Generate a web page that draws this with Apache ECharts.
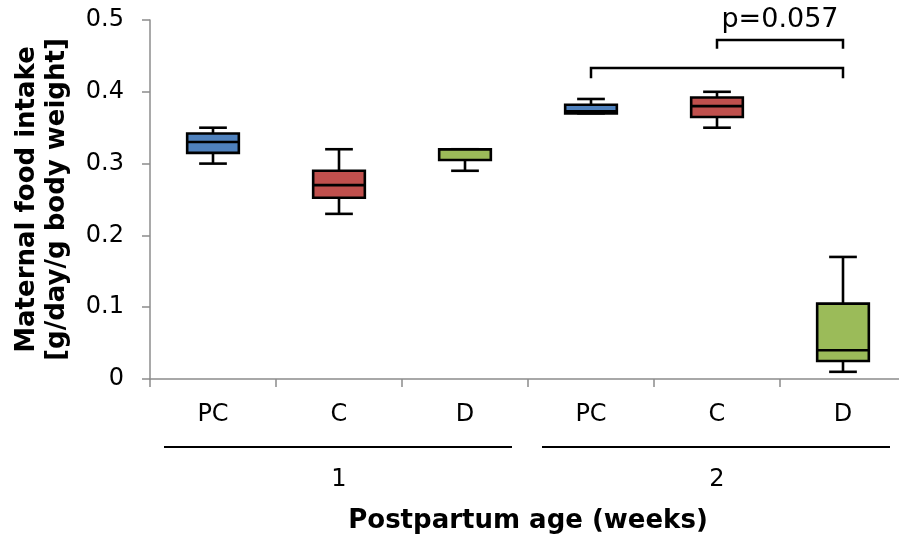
<!DOCTYPE html>
<html>
<head>
<meta charset="utf-8">
<script src="https://cdn.jsdelivr.net/npm/echarts@6/dist/echarts.min.js"></script>
<style>
html,body{margin:0;padding:0;background:#fff;}
#c{width:899px;height:537px;}
</style>
</head>
<body>
<div id="c"></div>
<script>
// ---- data ----
const categories = ['PC', 'C', 'D', 'PC', 'C', 'D'];
const weeks = ['1', '2'];
const mins    = [0.30, 0.23,  0.29,  0.37,  0.35,  0.01];
const q1s     = [0.315, 0.2525, 0.305, 0.37,  0.365, 0.025];
const medians = [0.33, 0.27,  0.32,  0.373, 0.38,  0.04];
const q3s     = [0.342, 0.29,  0.32,  0.382, 0.392, 0.105];
const maxs    = [0.35, 0.32,  0.32,  0.39,  0.40,  0.17];
const groupColors = ['#4F81BD', '#C0504D', '#9BBB59'];
const yTicks = [0, 0.1, 0.2, 0.3, 0.4, 0.5];
// significance brackets: from category, to category, level, drop
const bracketFrom = [3, 4];
const bracketTo = [5, 5];
const bracketLevel = [0.433, 0.472];
const bracketDrop = [0.014, 0.012];
const pLabel = 'p=0.057';

const FONT = 'DejaVu Sans';
const boxData = categories.map((c, i) => [i, mins[i], q1s[i], medians[i], q3s[i], maxs[i]]);
const bracketData = bracketFrom.map((f, i) => [f, bracketTo[i], bracketLevel[i], bracketDrop[i]]);

const chart = echarts.init(document.getElementById('c'));

function renderBox(params, api) {
  const x = api.value(0);
  const pMin = api.coord([x, api.value(1)]);
  const pQ1 = api.coord([x, api.value(2)]);
  const pMed = api.coord([x, api.value(3)]);
  const pQ3 = api.coord([x, api.value(4)]);
  const pMax = api.coord([x, api.value(5)]);
  const band = api.size([1, 0])[0];
  const bw = band * 0.41;
  const cw = band * 0.11;
  const cx = pMed[0];
  const color = groupColors[params.dataIndex % 3];
  const ls = { stroke: '#000', lineWidth: 2.6 };
  return {
    type: 'group',
    children: [
      { type: 'line', shape: { x1: cx, y1: pQ3[1], x2: cx, y2: pMax[1] }, style: ls },
      { type: 'line', shape: { x1: cx, y1: pQ1[1], x2: cx, y2: pMin[1] }, style: ls },
      { type: 'line', shape: { x1: cx - cw, y1: pMax[1], x2: cx + cw, y2: pMax[1] }, style: ls },
      { type: 'line', shape: { x1: cx - cw, y1: pMin[1], x2: cx + cw, y2: pMin[1] }, style: ls },
      { type: 'rect', shape: { x: cx - bw / 2, y: pQ3[1], width: bw, height: pQ1[1] - pQ3[1] },
        style: { fill: color, stroke: '#000', lineWidth: 2.6 } },
      { type: 'line', shape: { x1: cx - bw / 2, y1: pMed[1], x2: cx + bw / 2, y2: pMed[1] }, style: ls }
    ]
  };
}

function renderBracket(params, api) {
  const a = api.coord([api.value(0), api.value(2)]);
  const b = api.coord([api.value(1), api.value(2)]);
  const d = api.coord([api.value(0), api.value(2) - api.value(3)]);
  const ls = { stroke: '#000', lineWidth: 2.5, fill: null };
  const children = [
    { type: 'polyline', shape: { points: [[a[0], d[1]], [a[0], a[1]], [b[0], b[1]], [b[0], d[1]]] }, style: ls }
  ];
  if (params.dataIndex === 1) {
    children.push({ type: 'text', style: { x: (a[0] + b[0]) / 2, y: a[1] - 20, text: pLabel,
      font: '27px "' + FONT + '"', fill: '#000', align: 'center', verticalAlign: 'middle' } });
  }
  return { type: 'group', children };
}

chart.setOption({
  animation: false,
  textStyle: { fontFamily: FONT },
  grid: { left: 150, top: 20, width: 756, height: 359, outerBoundsMode: 'none', containLabel: false },
  xAxis: [{
    type: 'category',
    data: categories,
    position: 'bottom',
    axisLine: { lineStyle: { color: '#8c8c8c', width: 1.5 } },
    axisTick: { show: true, length: 8, lineStyle: { color: '#8c8c8c', width: 1.5 } },
    axisLabel: { color: '#000', fontSize: 24, margin: 24, fontFamily: FONT },
    name: 'Postpartum age (weeks)',
    nameLocation: 'middle',
    nameGap: 129,
    nameMoveOverlap: false,
    nameTextStyle: { color: '#000', fontSize: 26, fontWeight: 'bold', fontFamily: FONT }
  }, {
    type: 'category',
    data: weeks,
    position: 'bottom',
    offset: 0,
    axisLine: { show: false },
    axisTick: { show: false },
    axisLabel: { color: '#000', fontSize: 24, margin: 89, fontFamily: FONT }
  }],
  yAxis: {
    type: 'value',
    min: 0, max: 0.5, interval: 0.1,
    splitLine: { show: false },
    axisLine: { show: true, lineStyle: { color: '#8c8c8c', width: 1.5 } },
    axisTick: { show: true, length: 8, lineStyle: { color: '#8c8c8c', width: 1.5 } },
    axisLabel: { color: '#000', fontSize: 24, margin: 26, fontFamily: FONT,
      formatter: v => (yTicks.indexOf(Math.round(v * 10) / 10) >= 0 ? String(Math.round(v * 10) / 10) : '') },
    name: 'Maternal food intake\n[g/day/g body weight]',
    nameLocation: 'middle',
    nameRotate: 90,
    nameGap: 78,
    nameMoveOverlap: false,
    nameTextStyle: { color: '#000', fontSize: 26, fontWeight: 'bold', fontFamily: FONT, lineHeight: 30 }
  },
  graphic: [
    { type: 'line', shape: { x1: 164, y1: 447, x2: 512, y2: 447 }, style: { stroke: '#000', lineWidth: 2 } },
    { type: 'line', shape: { x1: 542, y1: 447, x2: 890, y2: 447 }, style: { stroke: '#000', lineWidth: 2 } }
  ],
  series: [
    { type: 'custom', renderItem: renderBox, data: boxData, clip: false, xAxisIndex: 0,
      encode: { x: 0, y: [1, 2, 3, 4, 5] } },
    { type: 'custom', renderItem: renderBracket, data: bracketData, clip: false, xAxisIndex: 0,
      encode: { x: [0, 1], y: 2 } }
  ]
});
</script>
</body>
</html>
